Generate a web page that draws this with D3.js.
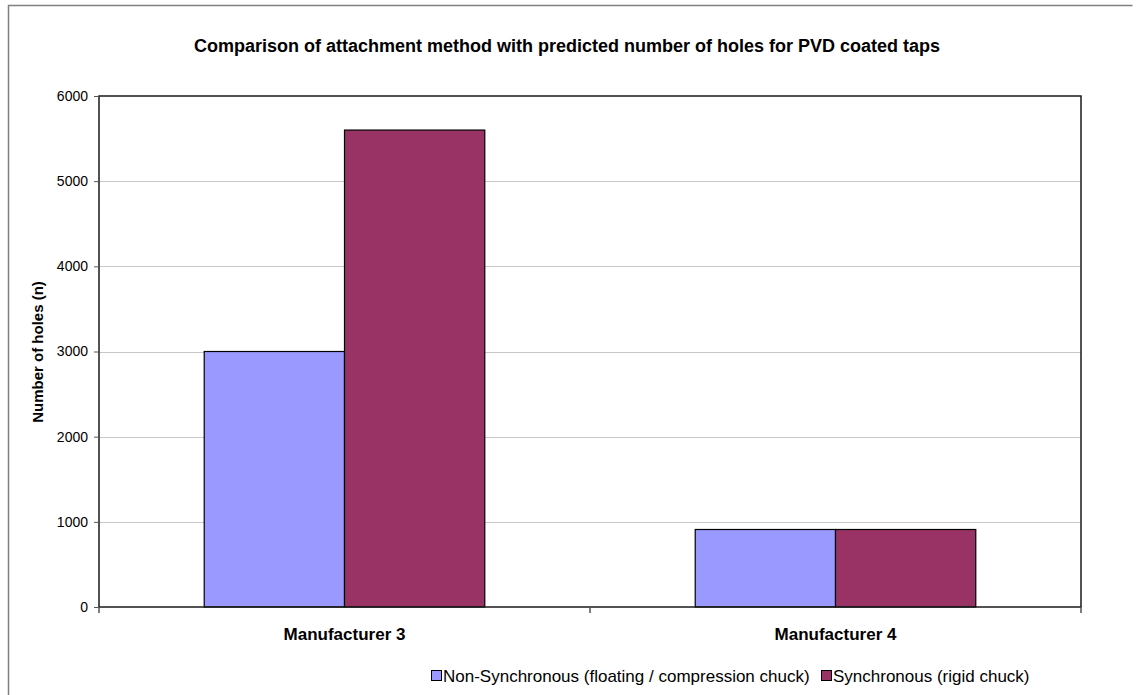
<!DOCTYPE html>
<html>
<head>
<meta charset="utf-8">
<script src="https://cdn.jsdelivr.net/npm/d3@7"></script>
<style>
  html, body { margin: 0; padding: 0; background: #fff; }
  svg { display: block; }
  text { font-family: "Liberation Sans", Arial, sans-serif; fill: #000; }
</style>
</head>
<body>
<svg id="chart" width="1137" height="695"></svg>
<script>
// Data
const categories = ["Manufacturer 3", "Manufacturer 4"];
const seriesNames = ["Non-Synchronous (floating / compression chuck)", "Synchronous (rigid chuck)"];
const nonSyncValues = [3000, 910];
const syncValues = [5600, 910];
const yTicks = [0, 1000, 2000, 3000, 4000, 5000, 6000];
const title = "Comparison of attachment method with predicted number of holes for PVD coated taps";
const yTitle = "Number of holes (n)";
const colors = ["#9999FF", "#993366"];

const svg = d3.select("#chart");
const W = 1137, H = 695;
const m = { left: 99, right: 1081, top: 96, bottom: 607 };

// Outer chart border
svg.append("path")
  .attr("d", `M8.5,${H + 5} V5.5 H1132.5`)
  .attr("fill", "none").attr("stroke", "#808080").attr("stroke-width", 1.5);

const x0 = d3.scaleBand().domain(categories).range([m.left, m.right]).paddingInner(0).paddingOuter(0);
const barW = x0.bandwidth() / 3.5;
const x1 = d3.scaleBand().domain(seriesNames)
  .range([(x0.bandwidth() - 2 * barW) / 2, (x0.bandwidth() + 2 * barW) / 2]);
const y = d3.scaleLinear().domain([0, 6000]).range([m.bottom, m.top]);

// Gridlines
svg.append("g").selectAll("line").data(yTicks.filter(d => d > 0 && d < 6000)).join("line")
  .attr("x1", m.left).attr("x2", m.right)
  .attr("y1", d => Math.round(y(d)) + 0.5).attr("y2", d => Math.round(y(d)) + 0.5)
  .attr("stroke", "#c8c8c8").attr("stroke-width", 1);

// Bars
const rows = categories.map((c, i) => ({ cat: c, vals: [nonSyncValues[i], syncValues[i]] }));
const grp = svg.append("g").selectAll("g").data(rows).join("g")
  .attr("transform", d => `translate(${x0(d.cat)},0)`);
grp.selectAll("rect").data(d => d.vals.map((v, j) => ({ v, j }))).join("rect")
  .attr("x", d => x1(seriesNames[d.j]))
  .attr("width", x1.bandwidth())
  .attr("y", d => y(d.v))
  .attr("height", d => y(0) - y(d.v))
  .attr("fill", d => colors[d.j])
  .attr("stroke", "#000").attr("stroke-width", 1.2);

// Plot frame
svg.append("rect")
  .attr("x", m.left).attr("y", m.top)
  .attr("width", m.right - m.left).attr("height", m.bottom - m.top)
  .attr("fill", "none").attr("stroke", "#1a1a1a").attr("stroke-width", 1.5);

// Y axis
const yAxis = svg.append("g").attr("transform", `translate(${m.left},0)`)
  .call(d3.axisLeft(y).tickValues(yTicks).tickSize(5).tickPadding(6).tickFormat(d3.format("d")));
yAxis.select(".domain").remove();
yAxis.selectAll(".tick line").attr("stroke", "#555");
yAxis.selectAll("text").style("font-size", "14px").style("font-family", "'Liberation Sans', Arial, sans-serif").attr("fill", "#000");

// X axis ticks at band edges
const xEdges = [m.left, ...categories.map(c => x0(c) + x0.bandwidth())];
svg.append("g").selectAll("line").data(xEdges).join("line")
  .attr("x1", d => d).attr("x2", d => d)
  .attr("y1", m.bottom).attr("y2", m.bottom + 6)
  .attr("stroke", "#555").attr("stroke-width", 1.5);

// Category labels
svg.append("g").selectAll("text").data(categories).join("text")
  .attr("x", d => x0(d) + x0.bandwidth() / 2)
  .attr("y", 640)
  .attr("text-anchor", "middle")
  .style("font-size", "17px").style("font-weight", "bold")
  .text(d => d);

// Title
svg.append("text").attr("x", 567).attr("y", 52).attr("text-anchor", "middle")
  .style("font-size", "18px").style("font-weight", "bold").text(title);

// Y axis title
svg.append("text").attr("transform", "translate(43,352) rotate(-90)")
  .attr("text-anchor", "middle")
  .style("font-size", "15px").style("font-weight", "bold").text(yTitle);

// Legend
const legendItems = [
  { name: seriesNames[0], color: colors[0], x: 431 },
  { name: seriesNames[1], color: colors[1], x: 821 }
];
const lg = svg.append("g").selectAll("g").data(legendItems).join("g")
  .attr("transform", d => `translate(${d.x},0)`);
lg.append("rect").attr("x", 0.5).attr("y", 670.5).attr("width", 10).attr("height", 10)
  .attr("fill", d => d.color).attr("stroke", "#000").attr("stroke-width", 1);
lg.append("text").attr("x", 12).attr("y", 682)
  .style("font-size", "17px").text(d => d.name);
</script>
</body>
</html>
